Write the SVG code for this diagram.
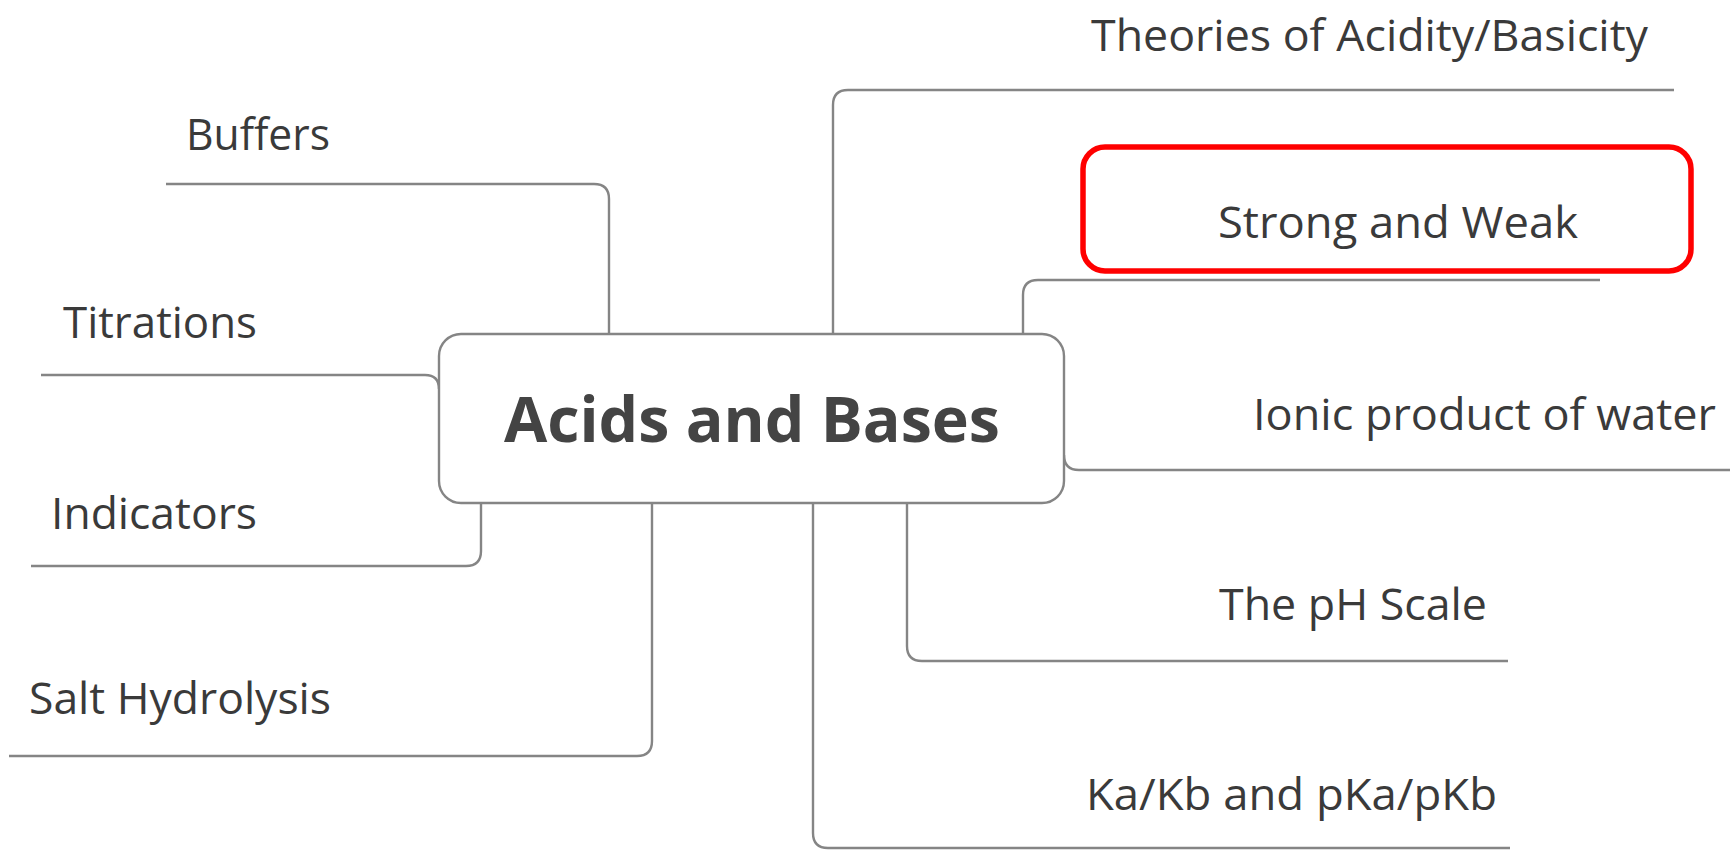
<svg xmlns="http://www.w3.org/2000/svg" width="1730" height="850" viewBox="0 0 1730 850">
  <style>
    .link { fill: none; stroke: #858585; stroke-width: 2.4; }
    .topic { font-family: "Open Sans", "Noto Sans", "Liberation Sans", sans-serif; font-size: 44px; fill: #3a3a3a; }
    .central-box { fill: #ffffff; stroke: #858585; stroke-width: 2.4; }
    .central-text { font-family: "Open Sans", "Noto Sans", "Liberation Sans", sans-serif; font-size: 63px; font-weight: bold; fill: #444444; }
    .highlight { fill: none; stroke: #ff0000; stroke-width: 5.5; }
  </style>
  <rect width="1730" height="850" fill="#ffffff"/>

  <!-- branch connectors -->
  <g id="connectors">
    <path class="link" d="M166,184 H594 Q609,184 609,199 V334"/>
    <path class="link" d="M41,375 H425 Q439,375 439,389"/>
    <path class="link" d="M481,503 V551 Q481,566 466,566 H31"/>
    <path class="link" d="M652,503 V741 Q652,756 637,756 H9"/>
    <path class="link" d="M833,334 V105 Q833,90 848,90 H1674"/>
    <path class="link" d="M1023,334 V295 Q1023,280 1038,280 H1600"/>
    <path class="link" d="M1064,455 Q1064,470 1079,470 H1730"/>
    <path class="link" d="M907,503 V646 Q907,661 922,661 H1508"/>
    <path class="link" d="M813,503 V833 Q813,848 828,848 H1510"/>
  </g>

  <g id="central">
    <rect class="central-box" x="439" y="334" width="625" height="169" rx="22" ry="22"/>
    <text class="central-text" x="504" y="442" textLength="496" lengthAdjust="spacingAndGlyphs">Acids and Bases</text>
  </g>

  <g id="buffers">
    <text class="topic" x="186" y="150" textLength="144" lengthAdjust="spacingAndGlyphs">Buffers</text>
  </g>
  <g id="titrations">
    <text class="topic" x="63" y="338" textLength="194" lengthAdjust="spacingAndGlyphs">Titrations</text>
  </g>
  <g id="indicators">
    <text class="topic" x="51" y="529" textLength="206" lengthAdjust="spacingAndGlyphs">Indicators</text>
  </g>
  <g id="salt-hydrolysis">
    <text class="topic" x="29" y="714" textLength="302" lengthAdjust="spacingAndGlyphs">Salt Hydrolysis</text>
  </g>

  <g id="theories">
    <text class="topic" x="1091" y="51" textLength="557" lengthAdjust="spacingAndGlyphs">Theories of Acidity/Basicity</text>
  </g>
  <g id="strong-weak">
    <rect class="highlight" x="1083" y="147" width="608" height="124" rx="22" ry="22"/>
    <text class="topic" x="1218" y="238" textLength="360" lengthAdjust="spacingAndGlyphs">Strong and Weak</text>
  </g>
  <g id="ionic-product">
    <text class="topic" x="1253" y="430" textLength="463" lengthAdjust="spacingAndGlyphs">Ionic product of water</text>
  </g>
  <g id="ph-scale">
    <text class="topic" x="1219" y="620" textLength="268" lengthAdjust="spacingAndGlyphs">The pH Scale</text>
  </g>
  <g id="ka-kb">
    <text class="topic" x="1086" y="810" textLength="411" lengthAdjust="spacingAndGlyphs">Ka/Kb and pKa/pKb</text>
  </g>
</svg>
